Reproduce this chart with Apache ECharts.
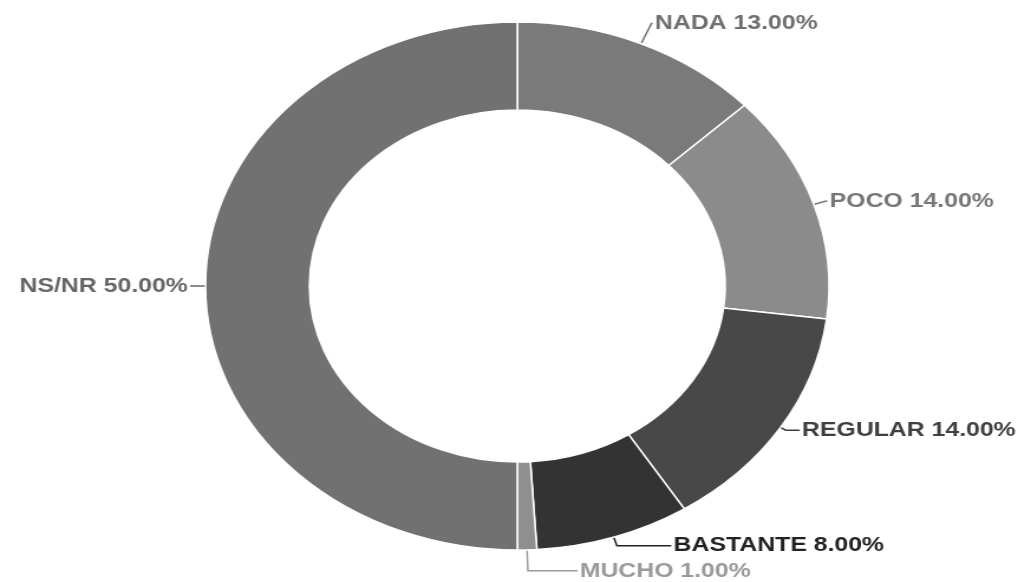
<!DOCTYPE html>
<html>
<head>
<meta charset="utf-8">
<script src="https://cdn.jsdelivr.net/npm/echarts@6/dist/echarts.min.js"></script>
<style>
  html, body { margin: 0; padding: 0; background: #fff; overflow: hidden; }
  /* the original donut is stretched wide, so the chart is drawn narrow and scaled */
  #chart { width: 862px; height: 582px; transform: scaleX(1.181); transform-origin: 0 0; }
</style>
</head>
<body>
<div id="chart"></div>
<script>
const categories = ['NADA', 'POCO', 'REGULAR', 'BASTANTE', 'MUCHO', 'NS/NR']
const values = [13, 14, 14, 8, 1, 50]
const sliceColors = ['#7a7a7a', '#8b8b8b', '#484848', '#333333', '#8f8f8f', '#717171']
const labelColors = ['#6f6f6f', '#777777', '#3f3f3f', '#222222', '#9a9a9a', '#666666']
// leader line lengths for each label [radial, horizontal]
const leaders = [[22, 1], [10, 2], [5, 12], [9, 46], [21, 42], [5, 8]]

let chart = echarts.init(document.getElementById('chart'))

let data = categories.map((name, i) => ({
  name: name,
  value: values[i],
  itemStyle: { color: sliceColors[i] },
  label: { color: labelColors[i] },
  labelLine: {
    length: leaders[i][0],
    length2: leaders[i][1],
    lineStyle: { color: labelColors[i] }
  }
}))

chart.setOption({
  backgroundColor: '#fff',
  animation: false,
  series: [{
    type: 'pie',
    center: [438, 286],
    radius: [176, 264],
    startAngle: 90,
    clockwise: true,
    avoidLabelOverlap: false,
    itemStyle: { borderColor: '#fff', borderWidth: 1.5 },
    label: {
      show: true,
      position: 'outside',
      fontFamily: 'Liberation Sans',
      fontWeight: 'bold',
      fontSize: 21,
      distanceToLabelLine: 2,
      formatter: p => p.name + ' ' + p.value.toFixed(2) + '%'
    },
    labelLine: { show: true, smooth: false, lineStyle: { width: 1.5 } },
    data: data
  }]
})
</script>
</body>
</html>
